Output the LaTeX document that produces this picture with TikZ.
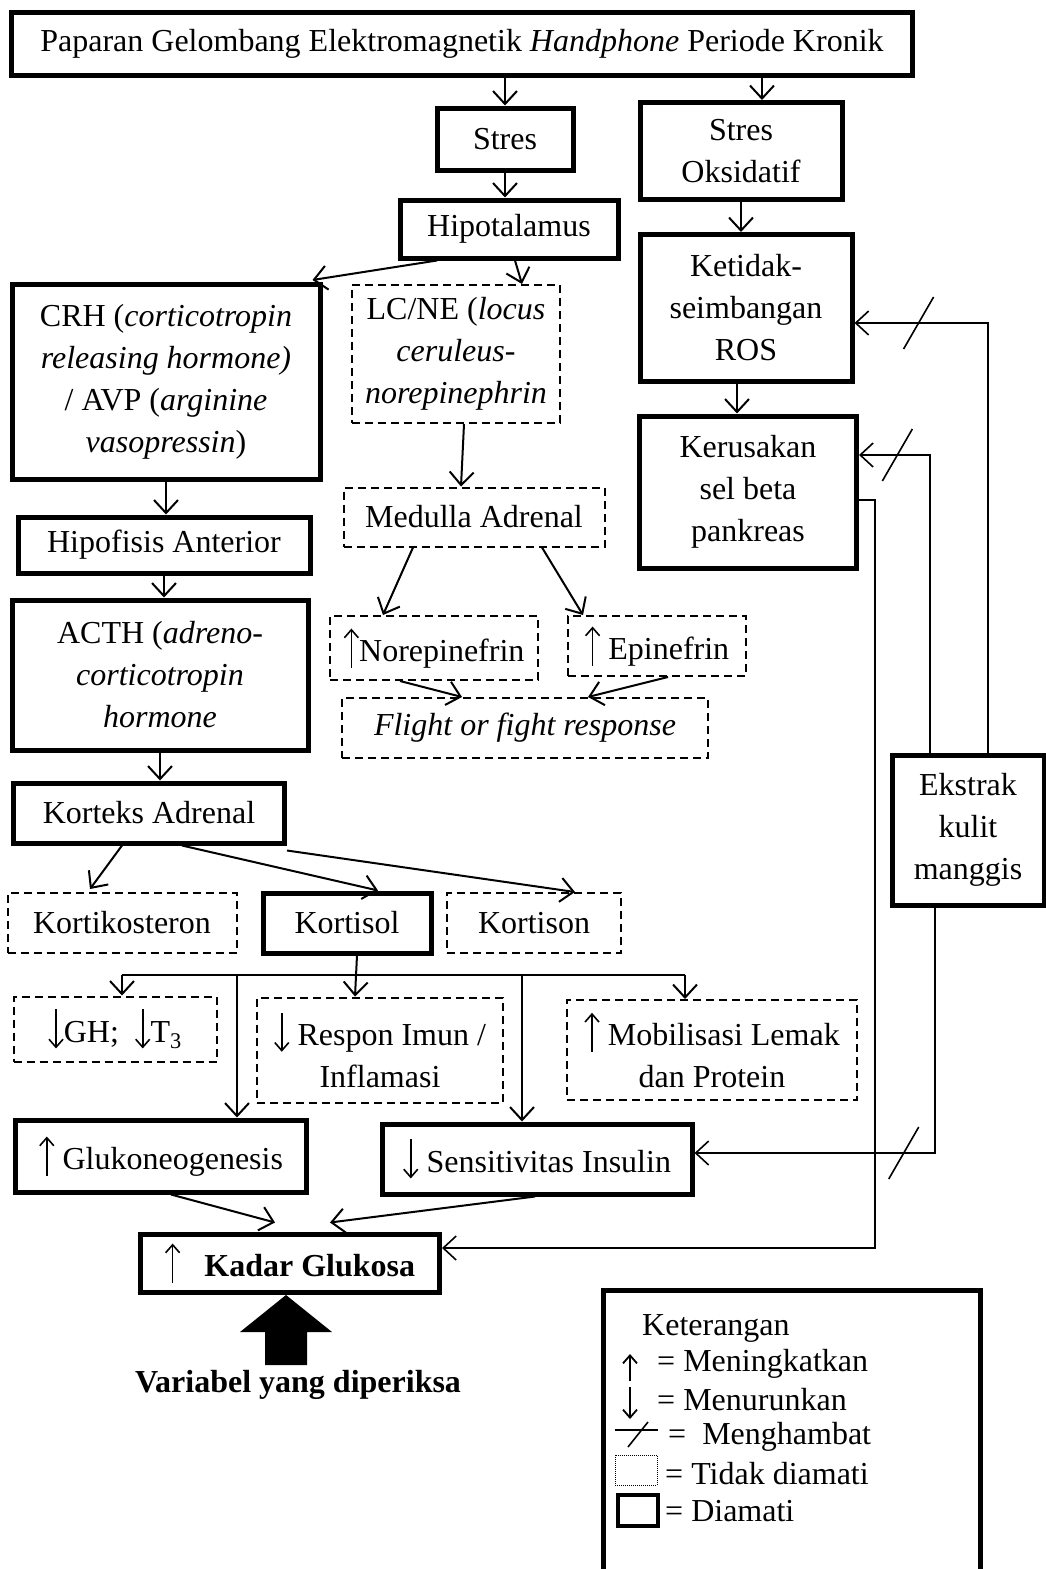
\documentclass[tikz,border=0pt]{standalone}
\usepackage{fontspec}
\setmainfont{Liberation Serif}
\usetikzlibrary{arrows.meta, calc}
\newcommand{\teks}{\fontsize{32}{42}\selectfont}
\newcommand{\naik}{\tikz[baseline=0pt]\draw[x=1pt, y=1pt, -{Straight Barb[length=8pt, width=14pt]}, line width=1.6pt] (0,-6) -- (0,33);}
\newcommand{\turun}{\tikz[baseline=0pt]\draw[x=1pt, y=1pt, -{Straight Barb[length=8pt, width=14pt]}, line width=1.6pt] (0,33) -- (0,-6);}

\begin{document}
\begin{tikzpicture}[
      x=1pt, y=-1pt,
      every node/.style={font=\teks, align=center, inner sep=0pt},
      diamati/.style={draw, line width=5pt, minimum width=#1},
      tidakamati/.style={draw, line width=2pt, dash pattern=on 8pt off 5pt, minimum width=#1},
      alur/.style={-{Straight Barb[length=13pt, width=24pt]}, line width=2pt},
      cabang/.style={line width=2pt},
      hambat/.style={-{Straight Barb[length=13pt, width=24pt]}, line width=1.6pt},
      coret/.style={line width=1.6pt}
  ]
    \useasboundingbox (0,0) rectangle (1046,1569);

    \node[diamati=901pt, minimum height=63pt] (paparan) at (462,44) {Paparan Gelombang Elektromagnetik \textit{Handphone} Periode Kronik};
    \node[diamati=136pt, minimum height=62pt] (stres) at (505,139) {Stres};
    \node[diamati=202pt, minimum height=97pt] (stresoks) at (741,151) {Stres\\Oksidatif};
    \node[diamati=218pt, minimum height=58pt] (hipotalamus) at (509,229) {Hipotalamus};
    \node[diamati=308pt, minimum height=195pt] (crh) at (166,382) {CRH (\textit{corticotropin}\\\textit{releasing hormone)}\\/ AVP (\textit{arginine}\\\textit{vasopressin})};
    \node[tidakamati=208pt, minimum height=138pt] (lcne) at (456,354) {LC/NE (\textit{locus}\\\textit{ceruleus-}\\\textit{norepinephrin}};
    \node[diamati=212pt, minimum height=147pt] (ketidak) at (746,308) {Ketidak-\\seimbangan\\ROS};
    \node[diamati=217pt, minimum height=152pt] (kerusakan) at (748,492) {Kerusakan\\sel beta\\pankreas};
    \node[tidakamati=261pt, minimum height=59pt] (medulla) at (474,517) {Medulla Adrenal};
    \node[diamati=292pt, minimum height=56pt] (hipofisis) at (164,545) {Hipofisis Anterior};
    \node[diamati=296pt, minimum height=150pt] (acth) at (160,675) {ACTH (\textit{adreno-}\\\textit{corticotropin}\\\textit{hormone}};
    \node[tidakamati=208pt, minimum height=64pt] (norepi) at (434,648) {\naik Norepinefrin};
    \node[tidakamati=178pt, minimum height=60pt] (epi) at (657,646) {\naik\ Epinefrin};
    \node[tidakamati=366pt, minimum height=60pt] (flight) at (525,728) {\textit{Flight or fight response}};
    \node[diamati=271pt, minimum height=60pt] (korteks) at (149,813) {Korteks Adrenal};
    \node[tidakamati=229pt, minimum height=60pt] (kortikost) at (122,923) {Kortikosteron};
    \node[diamati=168pt, minimum height=60pt] (kortisol) at (347,923) {Kortisol};
    \node[tidakamati=174pt, minimum height=60pt] (kortison) at (534,923) {Kortison};
    \node[tidakamati=203pt, minimum height=65pt] (gh) at (115,1029) {\turun GH;\ \ \turun T\textsubscript{3}};
    \node[tidakamati=246pt, minimum height=105pt] (imun) at (380,1050) {\turun\ Respon Imun /\\Inflamasi};
    \node[tidakamati=290pt, minimum height=100pt] (mobilisasi) at (712,1050) {\naik\ Mobilisasi Lemak\\dan Protein};
    \node[diamati=291pt, minimum height=72pt] (gluko) at (161,1156) {\naik\ Glukoneogenesis};
    \node[diamati=310pt, minimum height=70pt] (sensitiv) at (537,1159) {\turun\ Sensitivitas Insulin};
    \node[diamati=299pt, minimum height=58pt] (kadar) at (290,1263) {\naik\ \ \ \textbf{Kadar Glukosa}};
    \node[diamati=152pt, minimum height=150pt] (ekstrak) at (968,830) {Ekstrak\\kulit\\manggis};

    \draw[alur] (stres.north |- paparan.south) -- (stres.north);
    \draw[alur] ([xshift=21pt]stresoks.north |- paparan.south) -- ([xshift=21pt]stresoks.north);
    \draw[alur] (stres.south) -- (stres.south |- hipotalamus.north);
    \draw[alur] (stresoks.south) -- (stresoks.south |- ketidak.north);
    \draw[alur] ([xshift=-9pt]ketidak.south) -- ([xshift=-9pt]ketidak.south |- kerusakan.north);
    \draw[alur] ([xshift=-72pt]hipotalamus.south) -- ([xshift=-10pt,yshift=2pt]crh.north east);
    \draw[alur] ([xshift=6pt]hipotalamus.south) -- ([xshift=66pt]lcne.north);
    \draw[alur] ([xshift=8pt]lcne.south) -- ([xshift=-13pt]medulla.north);
    \draw[alur] (crh.south) -- (crh.south |- hipofisis.north);
    \draw[alur] (hipofisis.south) -- (hipofisis.south |- acth.north);
    \draw[alur] (acth.south) -- (acth.south |- korteks.north);
    \draw[alur] ([xshift=-61pt]medulla.south) -- ([xshift=-51pt]norepi.north);
    \draw[alur] ([xshift=68pt]medulla.south) -- ([xshift=-74pt]epi.north);
    \draw[alur] ([xshift=-34pt]norepi.south) -- ([xshift=-63pt]flight.north);
    \draw[alur] ([xshift=11pt]epi.south) -- ([xshift=63pt]flight.north);
    \draw[alur] ([xshift=-27pt]korteks.south) -- ([xshift=-32pt,yshift=3pt]kortikost.north);
    \draw[alur] ([xshift=33pt]korteks.south) -- ([xshift=31pt]kortisol.north);
    \draw[alur] ([yshift=-5pt]korteks.south east) -- ([xshift=41pt]kortison.north);

    \coordinate (bus) at (0,975);
    \draw[alur] ([xshift=10pt]kortisol.south) -- ([xshift=-25pt]imun.north);
    \draw[cabang] ([xshift=7pt]gh.north |- bus) -- ([xshift=-27pt]mobilisasi.north |- bus);
    \draw[alur] ([xshift=7pt]gh.north |- bus) -- ([xshift=7pt]gh.north);
    \draw[alur] ([xshift=-27pt]mobilisasi.north |- bus) -- ([xshift=-27pt]mobilisasi.north);
    \draw[alur] ([xshift=76pt]gluko.north |- bus) -- ([xshift=76pt]gluko.north);
    \draw[alur] ([xshift=-15pt]sensitiv.north |- bus) -- ([xshift=-15pt]sensitiv.north);
    \draw[alur] ([xshift=10pt]gluko.south) -- ([xshift=-15pt,yshift=9pt]kadar.north);
    \draw[alur] ([xshift=-2pt]sensitiv.south) -- ([xshift=40pt,yshift=9pt]kadar.north);

    \draw[hambat] ([xshift=20pt]ekstrak.north) |- coordinate[pos=0.76] (h1) ([yshift=-15pt]ketidak.east);
    \draw[hambat] ([xshift=-38pt]ekstrak.north) |- coordinate[pos=0.73] (h2) ([yshift=37pt]kerusakan.east);
    \draw[hambat] ([xshift=-33pt]ekstrak.south) |- coordinate[pos=0.565] (h3) ([yshift=6pt]sensitiv.east);
    \draw[hambat] ([yshift=-8pt]kerusakan.east) -- ++(16,0) |- ([yshift=15pt]kadar.east);
    \foreach \h in {h1, h2, h3}
      \draw[coret] ($(\h)+(-15,26)$) -- ($(\h)+(15,-26)$);

    \fill (286,1295) -- (332,1332) -- (307,1332) -- (307,1365) -- (265,1365) -- (265,1332) -- (240,1332) -- cycle;
    \node[font=\teks\bfseries] (variabel) at (298,1385) {Variabel yang diperiksa};

    \draw[line width=5pt] (603,1580) -- (603,1290) -- (980,1290) -- (980,1580);
    \node[anchor=west] (ket) at (642,1328) {Keterangan};
    \node[anchor=west] (ketnaik) at (657,1364) {= Meningkatkan};
    \node[anchor=west] (ketturun) at (657,1400) {= Menurunkan};
    \node[anchor=west] (kethambat) at (668,1437) {=\ \ Menghambat};
    \node[anchor=west] (kettidak) at (665,1474) {= Tidak diamati};
    \node[anchor=west] (ketdiamati) at (665,1511) {= Diamati};
    \draw[-{Straight Barb[length=8pt, width=14pt]}, line width=1.8pt] (630,1381) -- (630,1354);
    \draw[-{Straight Barb[length=8pt, width=14pt]}, line width=1.8pt] (630,1387) -- (630,1419);
    \draw[coret] (615,1430) -- (658,1430);
    \draw[coret] (628,1447) -- (648,1422);
    \draw[line width=1pt, densely dotted] (615,1455) rectangle (657,1485);
    \draw[line width=4pt] (618,1495) rectangle (658,1526);
  \end{tikzpicture}
\end{document}
